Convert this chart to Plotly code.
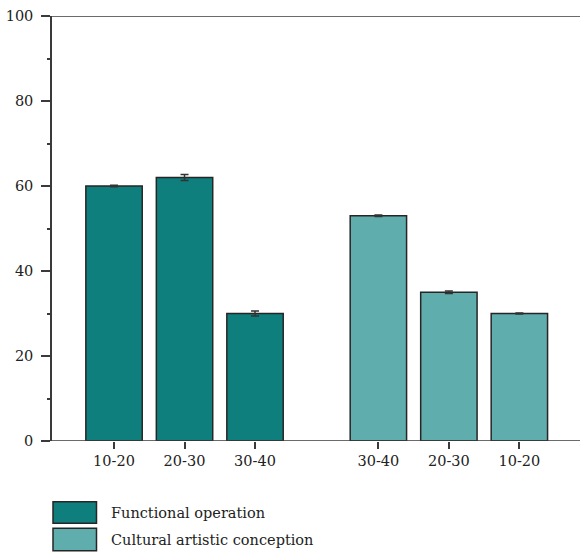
import plotly.graph_objects as go

# Age groups and scores for the two evaluation dimensions
functional_groups = ["10-20", "20-30", "30-40"]
functional_values = [60.0, 62.0, 30.0]
functional_errors = [0.2, 0.7, 0.6]

cultural_groups = ["30-40", "20-30", "10-20"]
cultural_values = [53.0, 35.0, 30.0]
cultural_errors = [0.2, 0.3, 0.1]

# Bar positions on a numeric axis, with a gap between the two groups
functional_pos = [1, 2, 3]
cultural_pos = [4.75, 5.75, 6.75]

y_ticks = [0, 20, 40, 60, 80, 100]

DARK_TEAL = "#0e7f7d"
LIGHT_TEAL = "#5faead"
EDGE = "#262626"
AXIS = "#3a3a3a"
TEXT = "#222222"
FONT = "DejaVu Serif"
SIZE = 14.5

fig = go.Figure()

fig.add_trace(go.Bar(
    x=functional_pos, y=functional_values, width=0.8,
    marker=dict(color=DARK_TEAL, line=dict(color=EDGE, width=1.5)),
    error_y=dict(type="data", array=functional_errors, color="#333333", thickness=1.5, width=4),
    name="Functional operation", showlegend=False,
))
fig.add_trace(go.Bar(
    x=cultural_pos, y=cultural_values, width=0.8,
    marker=dict(color=LIGHT_TEAL, line=dict(color=EDGE, width=1.5)),
    error_y=dict(type="data", array=cultural_errors, color="#333333", thickness=1.5, width=4),
    name="Cultural artistic conception", showlegend=False,
))

plot_w = 580 - 52
plot_h = 441 - 16
left_ext = -9 / plot_w

# Horizontal frame lines at 0 and 100, extending left past the y axis
for yv in (0, 100):
    fig.add_shape(type="line", xref="paper", yref="y", x0=left_ext, x1=1.0, y0=yv, y1=yv,
                  line=dict(color=AXIS, width=1.5), layer="above")


def px_x(p):
    return (p - 52) / plot_w


def px_y(p):
    return (441 - p) / plot_h


# Legend drawn as boxes with labels below the plot
legend_items = [("Functional operation", DARK_TEAL, 501.7, 523.3),
                ("Cultural artistic conception", LIGHT_TEAL, 528.3, 550.7)]
for label, color, top, bottom in legend_items:
    fig.add_shape(type="rect", xref="paper", yref="paper",
                  x0=px_x(53), x1=px_x(96.5), y0=px_y(bottom), y1=px_y(top),
                  fillcolor=color, line=dict(color=EDGE, width=1.5))
    fig.add_annotation(xref="paper", yref="paper", x=px_x(109), y=px_y((top + bottom) / 2),
                       text=label, showarrow=False, xanchor="left", yanchor="middle",
                       font=dict(family=FONT, size=SIZE, color=TEXT))

fig.update_layout(
    width=580, height=554,
    margin=dict(l=52, r=0, t=16, b=113),
    paper_bgcolor="white", plot_bgcolor="white",
    font=dict(family=FONT, size=SIZE, color=TEXT),
    bargap=0.2,
    showlegend=False,
)

fig.update_xaxes(
    range=[0.12, 7.61],
    tickvals=functional_pos + cultural_pos,
    ticktext=functional_groups + cultural_groups,
    ticks="outside", ticklen=7, tickwidth=1.5, tickcolor=AXIS,
    showline=False, showgrid=False, zeroline=False,
    tickfont=dict(family=FONT, size=SIZE, color=TEXT),
)
fig.update_yaxes(
    range=[0, 100],
    tickvals=y_ticks,
    ticks="outside", ticklen=9, tickwidth=1.5, tickcolor=AXIS,
    minor=dict(dtick=10, tick0=0, ticks="outside", ticklen=3, tickwidth=1.5, tickcolor=AXIS),
    showline=True, linecolor=AXIS, linewidth=1.5,
    showgrid=False, zeroline=False,
    ticklabelstandoff=5,
    tickfont=dict(family=FONT, size=SIZE, color=TEXT),
)

fig.write_html("out.html")
